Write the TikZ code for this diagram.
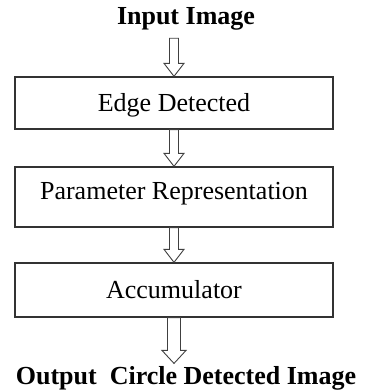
\documentclass[tikz,border=0pt]{standalone}
\usepackage{fontspec}
\setmainfont{Liberation Serif}
\usetikzlibrary{positioning,calc}

\tikzset{
  block/.style={draw=black!80, line width=1.3pt, minimum width=318pt, text height=17pt, text depth=0pt, inner sep=0pt, font=\fontsize{26}{30}\selectfont},
  title/.style={font=\fontsize{26}{30}\selectfont\bfseries, anchor=base},
  fat/.style={draw=black!75, line width=0.9pt, line join=miter}
}
% hollow block arrow: from, to, shaft half width, head half width
\newcommand{\fatarrow}[4]{%
  \draw[fat] ($(#1)+(-#3,0)$) -- ($(#2)+(-#3,13pt)$) -- ($(#2)+(-#4,13pt)$) -- (#2)
    -- ($(#2)+(#4,13pt)$) -- ($(#2)+(#3,13pt)$) -- ($(#1)+(#3,0)$) -- cycle;}

\begin{document}
\begin{tikzpicture}[x=1pt, y=1pt, on grid]
  \useasboundingbox (0,0) rectangle (366,-390);
  \node[block, minimum height=52pt] (edge) at (174,-103) {Edge Detected};
  \node[block, minimum height=60pt, text depth=12pt, below=94pt of edge] (param) {Parameter Representation};
  \node[block, minimum height=54pt, below=93pt of param] (acc) {Accumulator};
  \node[title] (in) at (186,-25) {Input Image};
  \node[title] (out) at (186,-384) {Output\ \ Circle Detected Image};

  \coordinate (intop) at ($(in.south -| edge.north)+(0,-4pt)$);
  \coordinate (outtip) at ($(out.north -| acc.south)+(0,-1pt)$);
  \fatarrow{intop}{edge.north}{4.5pt}{10pt}
  \fatarrow{edge.south}{param.north}{4.5pt}{10pt}
  \fatarrow{param.south}{acc.north}{4.5pt}{10pt}
  \fatarrow{acc.south}{outtip}{6.5pt}{12pt}
\end{tikzpicture}
\end{document}
